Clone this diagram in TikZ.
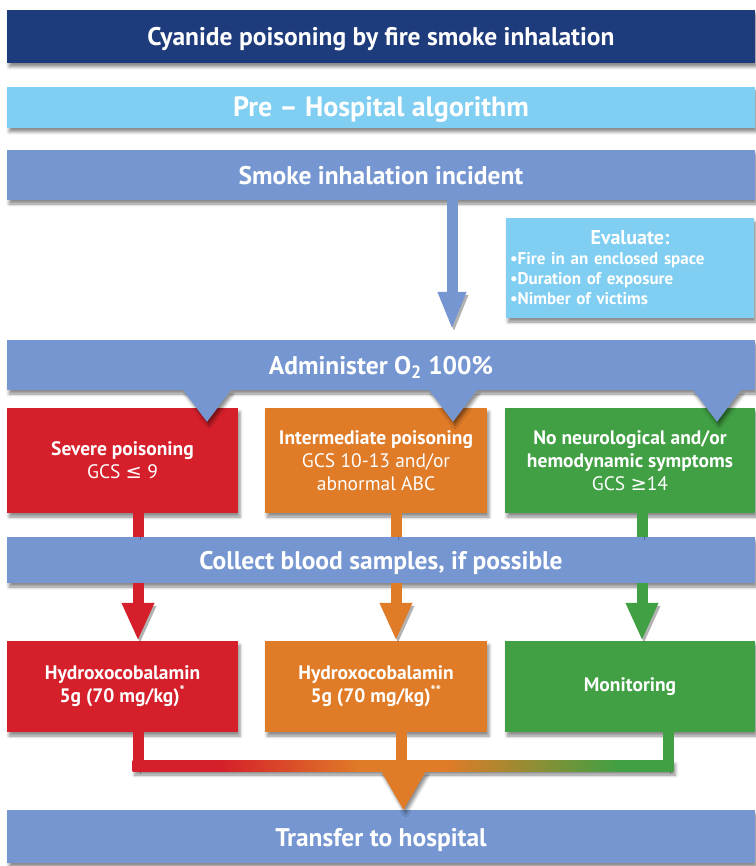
\documentclass[tikz,border=0pt]{standalone}
\usepackage{fontspec}
\setmainfont{PT Sans}
\newfontfamily\symfont{DejaVu Sans}
\usetikzlibrary{arrows.meta,shadows.blur,calc}

\definecolor{navy}{HTML}{1E3B7B}
\definecolor{skyblue}{HTML}{80CEF1}
\definecolor{barblue}{HTML}{7596D0}
\definecolor{sevred}{HTML}{D51F2A}
\definecolor{midorange}{HTML}{E07B27}
\definecolor{okgreen}{HTML}{40A043}

\pgfdeclarehorizontalshading{mergeshade}{100bp}{color(0bp)=(sevred); color(25bp)=(sevred); color(33bp)=(sevred); color(46bp)=(midorange); color(54bp)=(midorange); color(70bp)=(okgreen); color(75bp)=(okgreen); color(100bp)=(okgreen)}

\tikzstyle{softshadow} = [blur shadow={shadow xshift=2pt, shadow yshift=-4pt, shadow blur radius=3pt, shadow opacity=45}]
\tikzstyle{bar} = [rectangle, minimum width=748pt, inner sep=0pt, text=white, text height=21pt, text depth=2pt, font=\bfseries\fontsize{25.5}{30}\selectfont, softshadow]
\tikzstyle{stepbox} = [rectangle, inner sep=4pt, text=white, align=center, font=\fontsize{19.5}{23}\selectfont, softshadow]
\tikzstyle{shaft} = [line width=11pt, preaction={draw=black, opacity=0.3, transform canvas={xshift=2pt, yshift=-3pt}}]
\tikzstyle{headarrow} = [shaft, -{Triangle[width=30pt, length=38pt]}]

\begin{document}
\begin{tikzpicture}[x=1pt, y=-1pt]
	\useasboundingbox (0,0) rectangle (755,866);

	% bars across the page
	\node [bar, fill=navy, minimum height=53pt] (titlebar) at (381,36.5) {Cyanide poisoning by fire smoke inhalation};
	\node [bar, fill=skyblue, minimum height=41pt, font=\bfseries\fontsize{28}{32}\selectfont] (prebar) at (381,107.5) {Pre -- Hospital algorithm};
	\node [bar, fill=barblue, minimum height=50pt] (smokebar) at (381,175) {Smoke inhalation incident};
	\node [bar, fill=barblue, minimum height=50pt] (o2bar) at (381,365) {Administer O\textsubscript{2} 100\%};
	\node [bar, fill=barblue, minimum height=46pt] (bloodbar) at (381,560) {Collect blood samples, if possible};
	\node [bar, fill=barblue, minimum height=53pt] (transfer) at (381,836.5) {Transfer to hospital};

	% evaluation box
	\node [stepbox, fill=skyblue, minimum width=248pt, minimum height=100pt, text width=240pt, align=left, font=\bfseries\fontsize{17}{20}\selectfont] (evalbox) at (630,268) {%
		\centering{\fontsize{20}{21}\selectfont Evaluate:}\par
		\raggedright
		\textbullet Fire in an enclosed space\par
		\textbullet Duration of exposure\par
		\textbullet Nimber of victims};

	% severity boxes
	\node [stepbox, fill=sevred, minimum width=231pt, minimum height=105pt] (severe) at (122.5,460.5) {\textbf{Severe poisoning}\\GCS {\symfont ≤} 9};
	\node [stepbox, fill=midorange, minimum width=222pt, minimum height=105pt] (inter) at (376,460.5) {\textbf{Intermediate poisoning}\\GCS 10-13 and/or\\abnormal ABC};
	\node [stepbox, fill=okgreen, minimum width=250pt, minimum height=105pt] (nosymp) at (630,460.5) {\textbf{No neurological and/or}\\\textbf{hemodynamic symptoms}\\GCS {\symfont ≥}14};

	% treatment boxes
	\node [stepbox, fill=sevred, minimum width=231pt, minimum height=91pt, font=\bfseries\fontsize{19.5}{23}\selectfont] (hydroA) at (122.5,686.5) {Hydroxocobalamin\\5g (70 mg/kg)\textsuperscript{*}};
	\node [stepbox, fill=midorange, minimum width=222pt, minimum height=91pt, font=\bfseries\fontsize{19.5}{23}\selectfont] (hydroB) at (376,686.5) {Hydroxocobalamin\\5g (70 mg/kg)\textsuperscript{**}};
	\node [stepbox, fill=okgreen, minimum width=250pt, minimum height=91pt, font=\bfseries\fontsize{19.5}{23}\selectfont] (monitor) at (630,686.5) {Monitoring};

	% columns of the connectors
	\coordinate (cS) at (452,0);
	\coordinate (cR) at (138,0);
	\coordinate (cO) at (396,0);
	\coordinate (cG) at (642,0);

	% smoke -> oxygen
	\draw [shaft, barblue, -{Triangle[width=26pt, length=38pt]}] (smokebar.south -| cS) -- ($(o2bar.north -| cS)+(0,-10)$);

	% oxygen -> severity
	\foreach \tipx/\target in {207/severe, 453/inter, 717/nosymp}
		\fill [barblue, softshadow] (\tipx-24,390) -- (\tipx+24,390) -- ($(\target.north -| \tipx,0)+(0,14)$) -- cycle;

	% severity -> blood samples -> treatment
	\draw [shaft, sevred] (severe.south -| cR) -- (bloodbar.north -| cR);
	\draw [shaft, midorange] (inter.south -| cO) -- (bloodbar.north -| cO);
	\draw [shaft, okgreen] (nosymp.south -| cG) -- (bloodbar.north -| cG);
	\draw [headarrow, sevred] (bloodbar.south -| cR) -- (hydroA.north -| cR);
	\draw [headarrow, midorange] (bloodbar.south -| cO) -- (hydroB.north -| cO);
	\draw [headarrow, okgreen] (bloodbar.south -| cG) -- (monitor.north -| cG);

	% treatment -> transfer
	\coordinate (merge) at (403.5,771);
	\draw [shaft, sevred] (hydroA.south -| 138,0) -- (138,771);
	\draw [shaft, midorange] (hydroB.south -| 401,0) -- (401,760);
	\draw [shaft, okgreen] (monitor.south -| 668,0) -- (668,771);
	\shade [shading=mergeshade, softshadow] (132.5,760) rectangle (673.5,771);
	\fill [midorange, softshadow] ($(merge)+(-22.5,0)$) -- ($(merge)+(22.5,0)$) -- (merge |- transfer.north) -- cycle;
\end{tikzpicture}
\end{document}
